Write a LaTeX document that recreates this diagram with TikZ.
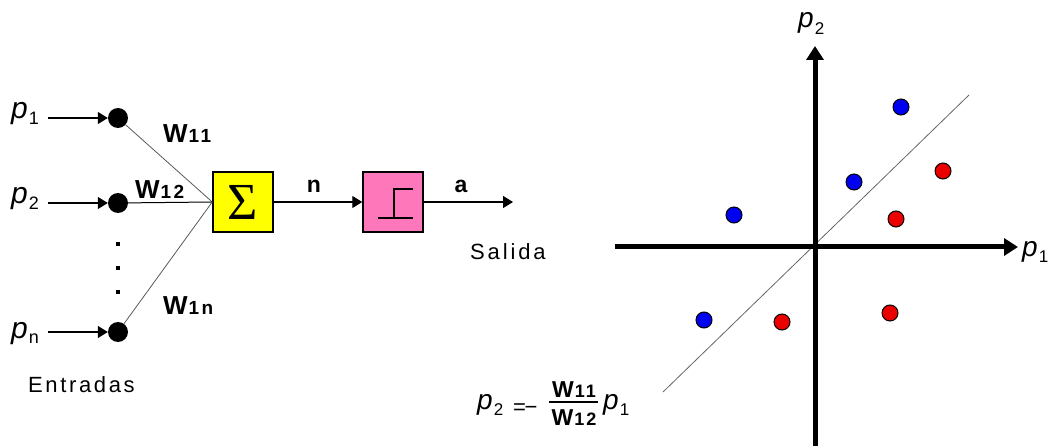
\documentclass[tikz,border=0pt]{standalone}
\usepackage{fontspec}
\setmainfont{Liberation Sans}
\newfontfamily\serf{Liberation Serif}
\usetikzlibrary{arrows.meta}
\definecolor{sumc}{RGB}{255,255,0}
\definecolor{stepc}{RGB}{255,119,187}
\definecolor{ptblue}{RGB}{0,0,240}
\definecolor{ptred}{RGB}{235,0,0}
\newcommand{\wl}[3]{{\fontsize{#1}{#1}\selectfont\bfseries W\kern1pt}{\fontsize{#2}{#2}\selectfont\bfseries\addfontfeature{LetterSpace=12}#3}}
\newcommand{\pl}[4]{{\fontsize{#1}{#1}\selectfont\itshape p}\kern1pt\raisebox{#4}{\fontsize{#2}{#2}\selectfont #3}}
\begin{document}
\begin{tikzpicture}[x=1pt,y=-1pt,
  lbl/.style={inner sep=0pt, anchor=base west},
  inpdot/.style={circle, fill=black, inner sep=0pt, minimum size=20pt},
  tinydot/.style={fill=black, inner sep=0pt, minimum size=4pt},
  blk/.style={draw=black, line width=1.5pt, minimum width=60pt, minimum height=60pt, inner sep=0pt},
  con/.style={line width=1.3pt, -{Triangle[length=10pt,width=12pt]}},
  wire/.style={line width=1pt},
  dwire/.style={line width=0.8pt, black!65},
  axisline/.style={line width=5pt, -{Triangle[length=14pt,width=17pt]}},
  bpt/.style={circle, draw=black, line width=1pt, inner sep=0pt, minimum size=16pt, fill=ptblue},
  rpt/.style={circle, draw=black, line width=1pt, inner sep=0pt, minimum size=16pt, fill=ptred},
  wtxt/.style={inner sep=0pt, anchor=base west, font=\fontsize{22}{22}\selectfont\addfontfeature{LetterSpace=12}},
]
\useasboundingbox (0,0) rectangle (1052,446);

% ---------- neuron ----------
\node[inpdot] (d1) at (118,118) {};
\node[inpdot] (d2) at (118,203) {};
\node[inpdot] (dn) at (118,332) {};
\node[tinydot] (v1) at (118,244) {};
\node[tinydot] (v2) at (118,268) {};
\node[tinydot] (v3) at (118,292) {};

\node[lbl] (p1) at (11,119) {\pl{30}{18}{1}{-6pt}};
\node[lbl] (p2) at (11,204) {\pl{30}{18}{2}{-6pt}};
\node[lbl] (pn) at (11,338) {\pl{30}{18}{n}{-5pt}};
\coordinate (s1) at (48,118);
\coordinate (s2) at (48,203);
\coordinate (sn) at (48,332);
\draw[con] (s1) -- (d1);
\draw[con] (s2) -- (d2);
\draw[con] (sn) -- (dn);

\node[blk, fill=sumc] (sum) at (243,202) {\fontsize{52}{52}\selectfont\serf Σ};
\node[blk, fill=stepc] (thr) at (393,202) {};
\draw[line width=2pt] (378,218) -- (413,218) (394,218) -- (394,189) -- (413,189);

\draw[dwire] (d1) -- (sum.west);
\draw[wire] (d2) -- (sum.west);
\draw[dwire] (dn) -- (sum.west);
\draw[con] (sum) -- (thr);
\coordinate (out) at (513,202);
\draw[con] (thr) -- (out);

\node[lbl] (w11) at (163,143) {\wl{26}{19}{11}};
\node[lbl] (w12) at (135,199) {\wl{26}{19}{12}};
\node[lbl] (w1n) at (163,315) {\wl{26}{19}{1n}};

\node[inner sep=0pt, anchor=base] (nlab) at (314,193) {\fontsize{23}{23}\selectfont\bfseries n};
\node[inner sep=0pt, anchor=base] (alab) at (461,193) {\fontsize{23}{23}\selectfont\bfseries a};
\node[wtxt, font=\fontsize{22}{22}\selectfont\addfontfeature{LetterSpace=13}] (salida) at (470,260) {Salida};
\node[wtxt] (entradas) at (28,392) {Entradas};

% ---------- plot ----------
\coordinate (ls) at (663,392);
\coordinate (le) at (969,95);
\draw[line width=0.8pt, black!60] (ls) -- (le);
\coordinate (xa) at (615,247);
\coordinate (xb) at (1018,247);
\coordinate (ya) at (815,446);
\coordinate (yb) at (815,46);
\draw[axisline] (xa) -- (xb);
\draw[axisline] (ya) -- (yb);
\node[lbl] (ax1) at (1022,257) {\pl{28}{17}{1}{-6pt}};
\node[lbl] (ax2) at (798,28) {\pl{28}{17}{2}{-7pt}};

\node[bpt] (b1) at (901,107) {};
\node[bpt] (b2) at (854,182) {};
\node[bpt] (b3) at (734,215) {};
\node[bpt] (b4) at (704,320) {};
\node[rpt] (r1) at (943,171) {};
\node[rpt] (r2) at (896,219) {};
\node[rpt] (r3) at (782,322) {};
\node[rpt] (r4) at (890,313) {};

% ---------- equation ----------
\node[lbl] (eqp2) at (477,409) {\pl{28}{17}{2}{-6pt}};
\node[lbl] (eqeq) at (513,414) {\fontsize{22}{22}\selectfont =\kern-1.5pt−};
\node[inner sep=0pt, anchor=base] (num) at (574,397) {\wl{23}{18}{11}};
\node[inner sep=0pt, anchor=base] (den) at (574,425) {\wl{23}{18}{12}};
\draw[line width=1.5pt] (549,402) -- (598,402);
\node[lbl] (eqp1) at (603,409) {\pl{28}{17}{1}{-6pt}};
\end{tikzpicture}
\end{document}
